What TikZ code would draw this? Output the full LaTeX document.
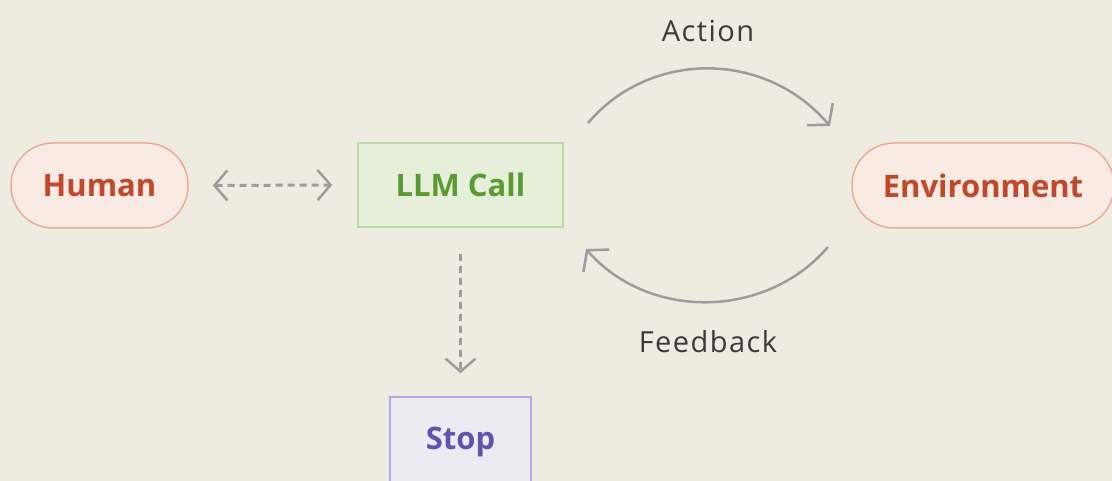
\documentclass[tikz,border=0pt]{standalone}
\usepackage{fontspec}
\setmainfont{Open Sans}
\usetikzlibrary{arrows.meta}
\definecolor{bg}{HTML}{EEECE0}
\definecolor{pillfill}{HTML}{F9EAE3}
\definecolor{pillline}{HTML}{EBAA99}
\definecolor{pilltext}{HTML}{C2482B}
\definecolor{llmfill}{HTML}{E6EFDA}
\definecolor{llmline}{HTML}{B9DCA6}
\definecolor{llmtext}{HTML}{5B9A33}
\definecolor{stopfill}{HTML}{ECEBF2}
\definecolor{stopline}{HTML}{B2A9E2}
\definecolor{stoptext}{HTML}{6152AE}
\definecolor{arrowgray}{HTML}{9C9C9C}
\definecolor{labeltext}{HTML}{3A3A3A}
\tikzset{
  nodefont/.style={font=\fontsize{31}{34}\selectfont\bfseries},
  pill/.style={draw=pillline, fill=pillfill, line width=1.5pt, rounded corners=42pt,
    minimum height=85pt, inner sep=0pt, text=pilltext, nodefont},
  llmbox/.style={draw=llmline, fill=llmfill, line width=1.5pt, minimum width=205pt,
    minimum height=84pt, inner sep=0pt, text=llmtext, nodefont},
  stopbox/.style={draw=stopline, fill=stopfill, line width=1.5pt, minimum width=141pt,
    minimum height=90pt, inner sep=0pt, text=stoptext, nodefont},
  lbl/.style={text=labeltext, inner sep=0pt,
    font=\fontsize{29}{32}\selectfont\addfontfeatures{LetterSpace=5}},
  dashlink/.style={draw=arrowgray, line width=3pt, dash pattern=on 7pt off 5pt},
  chev/.tip={Straight Barb[length=13pt,width=30pt,line width=2.5pt]},
  arc/.style={draw=arrowgray, line width=2.5pt, -{Straight Barb[length=14pt,width=34pt,line width=2.5pt]}}
}
\begin{document}
\begin{tikzpicture}[x=1pt,y=-1pt]
\fill[bg] (0,0) rectangle (1112,481);
\useasboundingbox (0,0) rectangle (1112,481);
\clip (0,0) rectangle (1112,481);
\node[pill, minimum width=177pt] (human) at (99.5,185.5) {Human};
\node[llmbox] (llm) at (460.5,185) {LLM Call};
\node[pill, minimum width=262pt] (env) at (983,185.5) {Environment};
\node[stopbox] (stop) at (460.5,442) {Stop};
\node[lbl] (action) at (708,31) {Action};
\node[lbl] (feedback) at (708,342) {Feedback};
% dashed links
\coordinate (hl1) at ([xshift=24pt]human.east);
\coordinate (hl2) at ([xshift=-25pt]llm.west);
\draw[dashlink, chev-chev] (hl1) -- (hl2);
\coordinate (ls1) at ([yshift=-26pt]llm.south);
\coordinate (ls2) at ([yshift=23pt]stop.north);
\draw[dashlink, -chev] (ls1) -- (ls2);
% arcs
\coordinate (a1) at (588,123);
\coordinate (a2) at (830,126);
\coordinate (f1) at (828,247);
\coordinate (f2) at (586,249);
\draw[arc] (a1) .. controls (650,50) and (765,50) .. (a2);
\draw[arc] (f1) .. controls (765,320) and (648,320) .. (f2);
\end{tikzpicture}
\end{document}
